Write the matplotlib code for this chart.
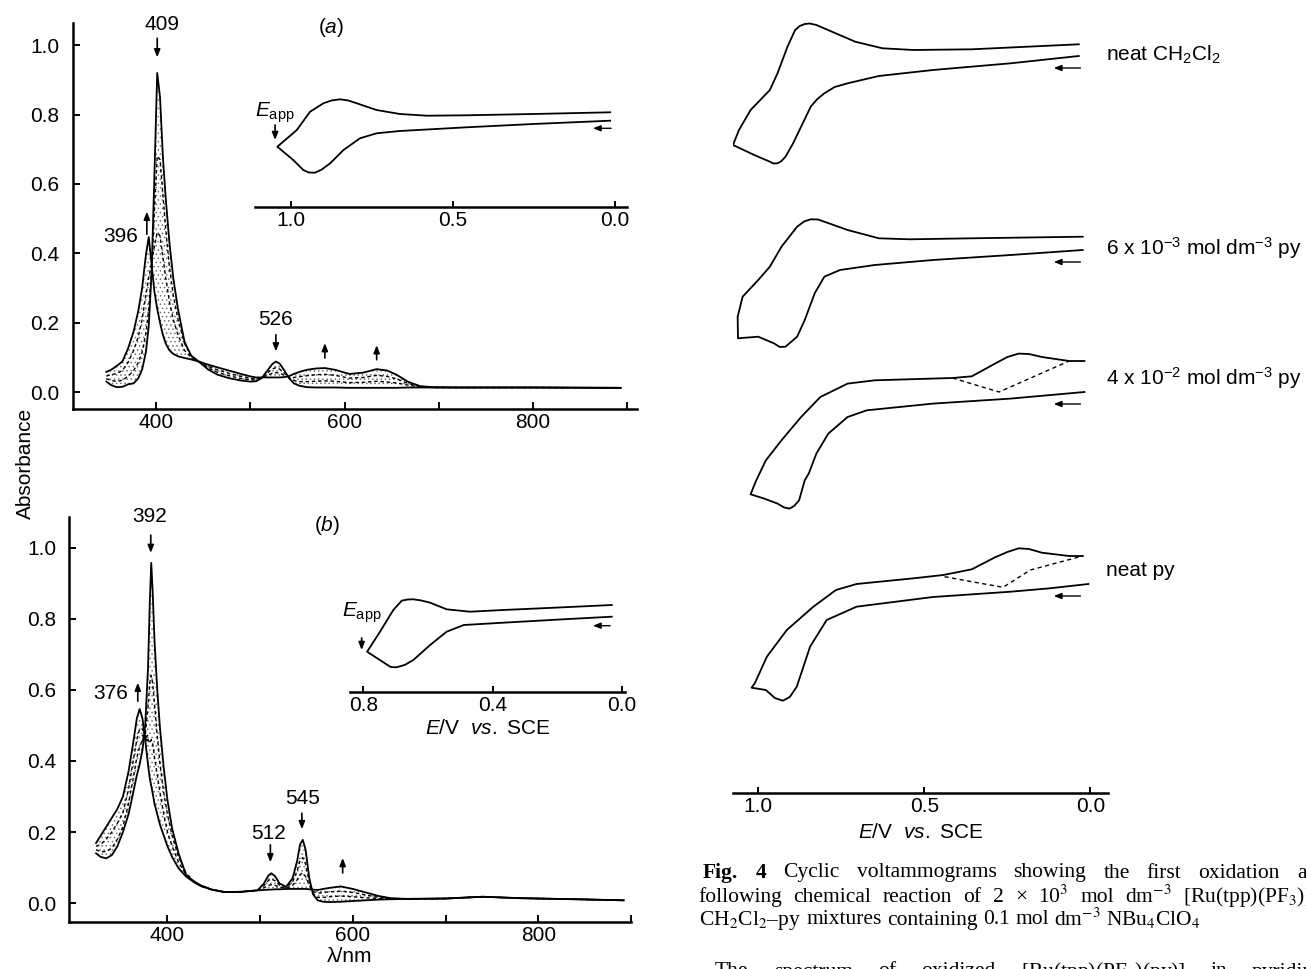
import matplotlib
matplotlib.use("Agg")
import matplotlib.pyplot as plt
from matplotlib.ticker import FuncFormatter

W, H = 1306, 969

# ---- spectra (a): wavelength grid and four traces (initial, two intermediate, final)
LAM_A = [347, 352, 358, 364, 370, 376, 381, 385, 389, 392, 395, 398, 401, 404, 407,
         410, 414, 418, 423, 430, 437, 445, 455, 465, 477, 490, 500, 506, 512, 518,
         523, 527, 531, 536, 541, 546, 552, 560, 570, 579, 590, 605, 620, 634, 645,
         655, 667, 680, 693, 720, 800, 893]
ABS_A_INIT = [.030, .020, .014, .015, .022, .025, .040, .065, .115, .19, .34, .62, .92, .85, .68,
              .56, .43, .33, .24, .145, .105, .088, .065, .050, .040, .033, .030, .031, .040, .062,
              .080, .088, .082, .062, .040, .025, .018, .014, .013, .013, .013, .012, .012, .012, .012,
              .012, .013, .013, .013, .013, .013, .012]
ABS_A_MID1 = [.038, .034, .030, .034, .045, .062, .085, .115, .17, .24, .35, .52, .68, .67, .57,
              .47, .36, .28, .21, .14, .105, .088, .070, .057, .047, .039, .035, .035, .041, .055,
              .066, .070, .066, .055, .041, .033, .030, .030, .031, .032, .031, .027, .028, .031, .029,
              .026, .020, .015, .013, .013, .013, .012]
ABS_A_MID2 = [.046, .050, .053, .062, .085, .12, .16, .21, .28, .33, .37, .42, .46, .45, .39,
              .33, .26, .21, .165, .12, .10, .088, .074, .064, .054, .045, .040, .038, .041, .048,
              .054, .056, .054, .049, .043, .042, .044, .047, .050, .051, .048, .040, .042, .048, .045,
              .038, .025, .016, .013, .013, .013, .012]
ABS_A_FINAL = [.058, .064, .075, .088, .125, .175, .235, .30, .395, .447, .37, .29, .24, .20, .165,
               .14, .12, .11, .103, .098, .094, .088, .079, .071, .062, .052, .045, .042, .042, .042,
               .042, .042, .042, .043, .046, .052, .058, .064, .068, .069, .064, .052, .056, .066, .062,
               .050, .030, .017, .014, .013, .013, .012]

# ---- spectra (b)
LAM_B = [323, 328, 334, 340, 346, 352, 358, 363, 367, 370, 373, 376, 379, 381, 382.5,
         384, 386, 389, 392, 396, 400, 405, 412, 420, 428, 436, 448, 462, 480, 497,
         504, 509, 512, 516, 521, 528, 535, 540, 543, 546, 549, 553, 557, 562, 568,
         575, 587, 600, 614, 628, 641, 660, 700, 740, 780, 840, 892]
ABS_B_INIT = [.14, .13, .126, .135, .16, .20, .25, .31, .36, .39, .43, .50, .66, .85, .957,
              .88, .74, .60, .49, .38, .29, .21, .14, .08, .062, .050, .038, .031, .032, .036,
              .055, .078, .084, .076, .055, .046, .07, .12, .165, .178, .15, .07, .025, .008, .004,
              .003, .004, .006, .008, .010, .011, .012, .013, .018, .014, .011, .008]
ABS_B_MID1 = [.15, .145, .145, .155, .18, .215, .28, .35, .41, .44, .46, .475, .55, .62, .64,
              .62, .56, .47, .39, .31, .25, .19, .13, .085, .063, .049, .038, .031, .032, .036,
              .049, .064, .068, .063, .050, .044, .060, .092, .12, .128, .11, .06, .028, .016, .016,
              .018, .020, .018, .015, .013, .012, .012, .013, .018, .014, .011, .008]
ABS_B_MID2 = [.16, .165, .18, .20, .225, .255, .32, .40, .46, .49, .49, .47, .46, .45, .46,
              .45, .41, .36, .31, .25, .20, .16, .115, .08, .061, .048, .038, .031, .032, .036,
              .043, .050, .052, .050, .045, .042, .050, .066, .080, .085, .075, .050, .033, .028, .030,
              .032, .034, .030, .023, .016, .013, .012, .013, .018, .014, .011, .008]
ABS_B_FINAL = [.169, .19, .215, .24, .265, .30, .37, .45, .52, .546, .52, .46, .39, .35, .33,
               .31, .28, .25, .22, .19, .16, .13, .098, .075, .060, .048, .038, .031, .032, .036,
               .037, .038, .038, .039, .039, .040, .040, .040, .040, .040, .040, .039, .038, .037, .040,
               .043, .047, .040, .030, .020, .014, .012, .013, .018, .014, .011, .008]

# ---- inset voltammograms (E in V, current arbitrary), forward sweep then return
INSET_A_E = [0.015, 0.252, 0.458, 0.664, 0.736, 0.787, 0.838, 0.879, 0.905, 0.926, 0.945, 0.962, 0.993, 1.042,
             0.982, 0.941, 0.900, 0.875, 0.849, 0.823, 0.797, 0.736, 0.664, 0.581, 0.458, 0.252, 0.015]
INSET_A_I = [8.63, 8.30, 7.97, 7.60, 7.37, 6.87, 5.70, 4.37, 3.75, 3.43, 3.45, 3.70, 4.70, 6.03,
             7.70, 9.53, 10.37, 10.65, 10.77, 10.65, 10.37, 9.70, 9.30, 9.13, 9.17, 9.30, 9.47]
INSET_B_E = [0.031, 0.181, 0.367, 0.489, 0.542, 0.593, 0.645, 0.672, 0.697, 0.715, 0.733, 0.788,
             0.748, 0.707, 0.681, 0.663, 0.645, 0.62, 0.593, 0.542, 0.470, 0.367, 0.181, 0.031]
INSET_B_I = [7.53, 7.27, 6.93, 6.70, 6.03, 4.70, 3.20, 2.7, 2.47, 2.5, 2.87, 4.03,
             6.03, 8.20, 9.13, 9.25, 9.27, 9.15, 8.93, 8.27, 8.03, 8.20, 8.47, 8.70]

# ---- Fig. 4 voltammograms, current relative to each trace's start
CV_LABELS = ["neat CH$_2$Cl$_2$", "6 x 10$^{-3}$ mol dm$^{-3}$ py",
             "4 x 10$^{-2}$ mol dm$^{-3}$ py", "neat py"]
CV_OFFSETS = [73.7, 54.3, 40.1, 20.9]
CV_E = [
    [0.035, 0.240, 0.474, 0.637, 0.731, 0.770, 0.801, 0.822, 0.842, 0.871, 0.895, 0.918, 0.930, 0.942,
     0.954, 0.965, 1.012, 1.076,
     1.058, 1.023, 0.965, 0.942, 0.912, 0.889, 0.875, 0.860, 0.845, 0.825, 0.778, 0.708, 0.626, 0.532,
     0.357, 0.035],
    [0.023, 0.240, 0.474, 0.649, 0.754, 0.801, 0.830, 0.860, 0.883, 0.918, 0.935, 0.953, 1.000, 1.061,
     1.062, 1.047, 1.000, 0.965, 0.930, 0.883, 0.862, 0.842, 0.820, 0.801, 0.731, 0.637, 0.544, 0.357,
     0.023],
    [0.018, 0.240, 0.474, 0.673, 0.731, 0.789, 0.825, 0.848, 0.860, 0.877, 0.892, 0.906, 0.922, 0.942,
     0.982, 1.023,
     1.006, 0.977, 0.930, 0.871, 0.813, 0.731, 0.649, 0.415, 0.357, 0.287, 0.25, 0.216, 0.185, 0.146,
     0.064, 0.018],
    [0.006, 0.122, 0.240, 0.474, 0.704, 0.794, 0.844, 0.884, 0.905, 0.926, 0.950, 0.977, 1.020,
     1.010, 0.974, 0.914, 0.834, 0.766, 0.704, 0.532, 0.443, 0.357, 0.287, 0.25, 0.216, 0.185, 0.146,
     0.064, 0.023],
]
CV_I = [
    [0, -0.73, -1.4, -2.0, -2.73, -3.1, -3.73, -4.3, -5.07, -7.07, -8.73, -10.07, -10.5, -10.73,
     -10.75, -10.57, -9.9, -8.9,
     -7.4, -5.4, -3.4, -1.73, 0.93, 2.6, 3.0, 3.2, 3.25, 3.1, 2.43, 1.43, 0.77, 0.6, 0.67, 1.17],
    [0, -0.5, -1.0, -1.5, -2.0, -2.67, -4.33, -7.0, -8.67, -9.67, -9.7, -9.33, -8.67, -8.83,
     -6.67, -4.67, -3.0, -1.67, 0.33, 2.33, 2.85, 3.07, 3.05, 2.83, 2.0, 1.17, 1.07, 1.17, 1.33],
    [0, -0.66, -1.16, -1.83, -2.5, -4.16, -6.16, -8.16, -8.83, -10.83, -11.4, -11.66, -11.55, -11.16,
     -10.66, -10.23,
     -8.83, -6.83, -4.83, -2.5, -0.5, 0.84, 1.17, 1.4, 1.57, 2.84, 3.5, 3.84, 3.8, 3.5, 3.1, 3.1],
    [0, -0.43, -0.77, -1.3, -2.27, -3.6, -6.27, -10.27, -11.3, -11.67, -11.4, -10.6, -10.37,
     -9.9, -7.27, -4.6, -2.27, -0.6, 0.0, 0.57, 0.9, 1.47, 2.67, 3.2, 3.57, 3.5, 3.13, 2.8, 2.8],
]
# dashed branches (traces 3 and 4)
CV_DASH_E = {2: [0.415, 0.275, 0.064], 3: [0.439, 0.357, 0.263, 0.181, 0.023]}
CV_DASH_I = {2: [1.4, 0.0, 3.1], 3: [0.73, 0.23, -0.33, 1.4, 2.8]}
CV_LABEL_I = [73.8, 54.5, 41.5, 22.3]

SANS = ["Liberation Sans", "DejaVu Sans"]
SERIF = ["Liberation Serif", "DejaVu Serif"]
plt.rcParams["font.family"] = SANS
plt.rcParams["mathtext.fontset"] = "custom"
plt.rcParams["mathtext.rm"] = "Liberation Sans"
plt.rcParams["mathtext.it"] = "Liberation Sans:italic"
plt.rcParams["mathtext.bf"] = "Liberation Sans:bold"
plt.rcParams["hatch.linewidth"] = 0.6
plt.rcParams["lines.solid_joinstyle"] = "round"

FS = 15
LW = 1.3


def px_axes(fig, left, top, right, bottom):
    return fig.add_axes([left / W, 1 - bottom / H, (right - left) / W, (bottom - top) / H])


def arrow(ax, tip, tail, lw=1.2):
    ax.annotate("", xy=tip, xytext=tail, annotation_clip=False,
                arrowprops=dict(arrowstyle="-|>,head_length=0.45,head_width=0.18",
                                lw=lw, color="k", shrinkA=0, shrinkB=0))


def style_spectrum(ax, xlim, ylim, ypad):
    ax.set_xlim(xlim)
    ax.set_ylim(ylim)
    ax.patch.set_alpha(0)
    ax.spines["top"].set_visible(False)
    ax.spines["right"].set_visible(False)
    ax.spines["left"].set_linewidth(1.8)
    ax.spines["bottom"].set_linewidth(1.8)
    ax.set_xticks([400, 500, 600, 700, 800, 900])
    ax.xaxis.set_major_formatter(FuncFormatter(lambda v, p: f"{v:.0f}" if v in (400, 600, 800) else ""))
    ax.set_yticks([0.0, 0.2, 0.4, 0.6, 0.8, 1.0])
    ax.yaxis.set_major_formatter(FuncFormatter(lambda v, p: f"{v:.1f}"))
    ax.tick_params(direction="in", length=5, width=1.4, labelsize=FS)
    ax.tick_params(axis="x", pad=3)
    ax.tick_params(axis="y", pad=ypad)


def draw_spectra(ax, lam, init, mid1, mid2, final):
    ax.plot(lam, init, color="k", lw=LW)
    ax.plot(lam, final, color="k", lw=LW)
    for mid in (mid1, mid2):
        ax.plot(lam, mid, color="k", lw=1.0, ls=(0, (2.5, 2)))
    ax.fill_between(lam, init, final, facecolor="none", edgecolor="0.45", hatch="....", lw=0)


def style_inset(ax, xlim, ticks, labels):
    ax.set_xlim(xlim)
    ax.set_ylim(0, 12)
    ax.patch.set_alpha(0)
    for s in ("top", "right", "left"):
        ax.spines[s].set_visible(False)
    ax.spines["bottom"].set_linewidth(1.8)
    ax.set_yticks([])
    ax.set_xticks(ticks)
    ax.set_xticklabels(labels)
    ax.tick_params(axis="x", direction="in", length=4, width=1.4, labelsize=FS, pad=3)


fig = plt.figure(figsize=(W / 100, H / 100), dpi=100)

# ---------------- panel (a)
ax_a = px_axes(fig, 73, 23, 637, 409)
style_spectrum(ax_a, (311.6, 910.4), (-0.049, 1.064), 10)
draw_spectra(ax_a, LAM_A, ABS_A_INIT, ABS_A_MID1, ABS_A_MID2, ABS_A_FINAL)
ax_a.text(406, 1.06, "409", ha="center", va="center", fontsize=FS, clip_on=False)
arrow(ax_a, (401, 0.965), (401, 1.02))
ax_a.text(586, 1.05, "($a$)", ha="center", va="center", fontsize=FS, clip_on=False)
ax_a.text(362, 0.449, "396", ha="center", va="center", fontsize=FS)
arrow(ax_a, (390, 0.52), (390, 0.455))
ax_a.text(527, 0.209, "526", ha="center", va="center", fontsize=FS)
arrow(ax_a, (527, 0.117), (527, 0.165))
arrow(ax_a, (579, 0.141), (579, 0.098))
arrow(ax_a, (634, 0.135), (634, 0.093))

ins_a = px_axes(fig, 255, 87, 627, 207)
style_inset(ins_a, (1.111, -0.037), [1.0, 0.5, 0.0], ["1.0", "0.5", "0.0"])
ins_a.plot(INSET_A_E, INSET_A_I, color="k", lw=LW)
ins_a.text(1.05, 9.4, r"$E_{\mathrm{app}}$", ha="center", va="center", fontsize=FS)
arrow(ins_a, (1.049, 6.7), (1.049, 8.2))
arrow(ins_a, (0.068, 7.87), (0.012, 7.87), lw=1.0)

# ---------------- panel (b)
ax_b = px_axes(fig, 69, 517, 631, 922)
style_spectrum(ax_b, (293.8, 898.5), (-0.053, 1.086), 9)
draw_spectra(ax_b, LAM_B, ABS_B_INIT, ABS_B_MID1, ABS_B_MID2, ABS_B_FINAL)
ax_b.plot([375.8], [0.465], marker="x", color="k", ms=5, mew=1.2)
ax_b.set_xlabel("λ/nm", fontsize=FS, labelpad=1)
ax_b.text(381, 1.086, "392", ha="center", va="center", fontsize=FS, clip_on=False)
arrow(ax_b, (382, 0.985), (382, 1.035))
ax_b.text(572, 1.063, "($b$)", ha="center", va="center", fontsize=FS, clip_on=False)
ax_b.text(339, 0.59, "376", ha="center", va="center", fontsize=FS)
arrow(ax_b, (368, 0.62), (368, 0.568))
ax_b.text(509, 0.197, "512", ha="center", va="center", fontsize=FS)
arrow(ax_b, (511, 0.115), (511, 0.164))
ax_b.text(546, 0.295, "545", ha="center", va="center", fontsize=FS)
arrow(ax_b, (545, 0.208), (545, 0.253))
arrow(ax_b, (589, 0.127), (589, 0.085))

ins_b = px_axes(fig, 350, 572, 625, 692)
style_inset(ins_b, (0.841, -0.010), [0.8, 0.4, 0.0], ["0.8", "0.4", "0.0"])
ins_b.plot(INSET_B_E, INSET_B_I, color="k", lw=LW)
ins_b.set_xlabel("$E$/V  $vs.$ SCE", fontsize=FS, labelpad=3)
ins_b.text(0.805, 7.9, r"$E_{\mathrm{app}}$", ha="center", va="center", fontsize=FS)
arrow(ins_b, (0.805, 4.2), (0.805, 5.4))
arrow(ins_b, (0.089, 6.63), (0.036, 6.63), lw=1.0)

fig.text(25 / W, 1 - 463 / H, "Absorbance", rotation=90, ha="center", va="center", fontsize=FS)

# ---------------- Fig. 4 voltammograms
ax_cv = px_axes(fig, 733, 0, 1108, 793)
ax_cv.set_xlim(1.076, -0.053)
ax_cv.set_ylim(0, 79.3)
ax_cv.patch.set_alpha(0)
for s in ("top", "right", "left"):
    ax_cv.spines[s].set_visible(False)
ax_cv.spines["bottom"].set_linewidth(1.8)
ax_cv.set_yticks([])
ax_cv.set_xticks([1.0, 0.5, 0.0])
ax_cv.set_xticklabels(["1.0", "0.5", "0.0"])
ax_cv.tick_params(axis="x", direction="in", length=4, width=1.4, labelsize=FS, pad=3)
ax_cv.set_xlabel("$E$/V  $vs.$ SCE", fontsize=FS, labelpad=5)

for k, (es, cur) in enumerate(zip(CV_E, CV_I)):
    off = CV_OFFSETS[k]
    ax_cv.plot(es, [c + off for c in cur], color="k", lw=LW)
    if k in CV_DASH_E:
        ax_cv.plot(CV_DASH_E[k], [c + off for c in CV_DASH_I[k]], color="k", lw=1.0, ls=(0, (3, 2.5)))
    arrow(ax_cv, (0.11, off - 1.2), (0.03, off - 1.2), lw=1.0)

for text, yv in zip(CV_LABELS, CV_LABEL_I):
    ax_cv.text(-0.047, yv, text, ha="left", va="center", fontsize=FS, clip_on=False)

# ---------------- caption text (justified like the journal page)
renderer = fig.canvas.get_renderer()


def place_words(words, x0, y, last_start=None, last_end=None, fs=15.5):
    texts = []
    for w in words:
        bold = w in ("Fig.", "4")
        texts.append(fig.text(0, 1 - y / H, w, ha="left", va="center", fontsize=fs,
                              family=SERIF, math_fontfamily="stix",
                              weight="bold" if bold else "normal"))
    widths = [t.get_window_extent(renderer).width for t in texts]
    if last_start is not None:
        gap = (last_start - x0 - sum(widths[:-1])) / (len(words) - 1)
    elif last_end is not None:
        gap = (last_end - x0 - sum(widths)) / (len(words) - 1)
    else:
        gap = 0.25 * fs * 100 / 72
    x = x0
    for t, wd in zip(texts, widths):
        t.set_x(x / W)
        x += wd + gap


place_words(["Fig.", "4", "Cyclic", "voltammograms", "showing", "the", "first", "oxidation", "and"],
            703, 873, last_start=1297)
place_words(["following", "chemical", "reaction", "of", "2", "×", "10$^3$", "mol", "dm$^{-3}$",
             "[Ru(tpp)(PF$_3$)]"], 698, 897, last_end=1312)
place_words(["CH$_2$Cl$_2$–py", "mixtures", "containing", "0.1", "mol", "dm$^{-3}$", "NBu$_4$ClO$_4$"],
            699, 920)
place_words(["The", "spectrum", "of", "oxidized", "[Ru(tpp)(PF$_3$)(py)]", "in", "pyridine"],
            715, 972, last_start=1252)

fig.savefig("out.png", dpi=100)
